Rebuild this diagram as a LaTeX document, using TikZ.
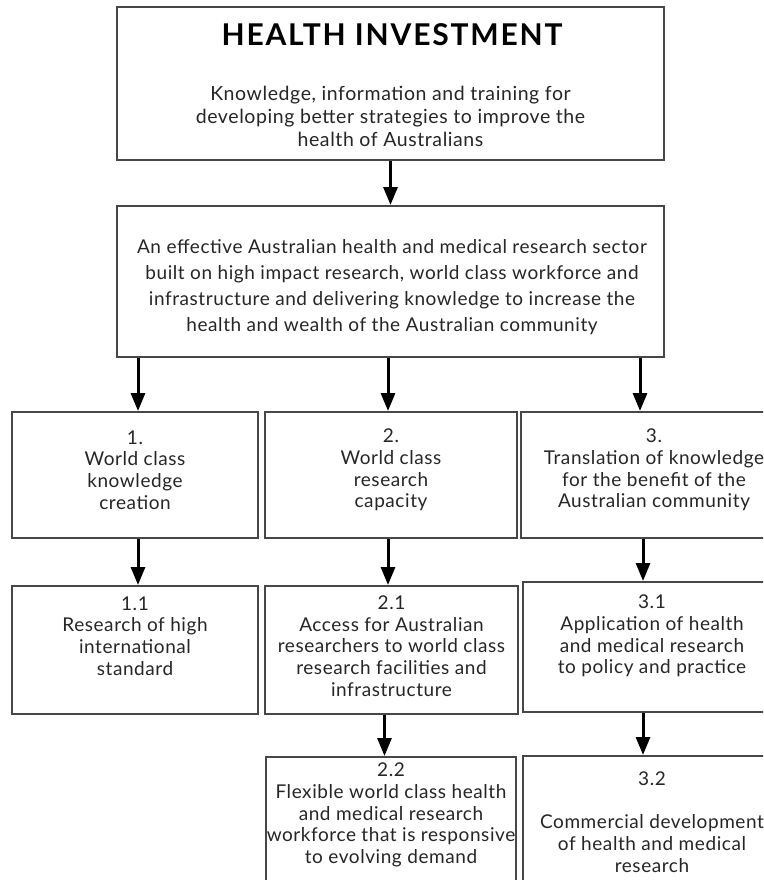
\documentclass[tikz,border=0pt]{standalone}
\usepackage{fontspec}
\setmainfont{Lato}
\usetikzlibrary{arrows.meta}
\begin{document}
\begin{tikzpicture}[x=1pt,y=-1pt,
  box/.style={draw=black!72, line width=2pt, rectangle, inner sep=0pt, fill=white},
  txt/.style={align=center, inner sep=0pt, text=black!85},
  rowtxt/.style={txt, font=\fontsize{19}{21.8}\selectfont\addfontfeatures{LetterSpace=3}},
  arr/.style={line width=3pt, draw=black, -{Triangle[width=14pt,length=18pt]}}]
\useasboundingbox (0,0) rectangle (763,880);
\clip (0,0) rectangle (763,880);
% boxes
\node[box, minimum width=547pt, minimum height=153pt] (top) at (390.5,83.5) {};
\node[box, minimum width=547pt, minimum height=151pt] (mid) at (390.5,281.5) {};
\node[box, minimum width=246pt, minimum height=126pt] (ra) at (135,475) {};
\node[box, minimum width=252pt, minimum height=126pt] (rb) at (391,475) {};
\node[box, minimum width=254pt, minimum height=126pt] (rc) at (648,475) {};
\node[box, minimum width=246pt, minimum height=128pt] (sa) at (135,650) {};
\node[box, minimum width=253pt, minimum height=128pt] (sb) at (391.5,650) {};
\node[box, minimum width=252pt, minimum height=130pt] (sc) at (649,647) {};
\node[box, minimum width=250pt, minimum height=143pt] (tb) at (391,828.5) {};
\node[box, minimum width=252pt, minimum height=144pt] (tc) at (649,828) {};
% texts
\node[txt, text=black, font=\fontsize{30}{32}\bfseries\addfontfeatures{LetterSpace=6}] (title) at (392,35) {HEALTH INVESTMENT};
\node[txt, font=\fontsize{19.5}{23}\selectfont\addfontfeatures{LetterSpace=3}] (toptext) at (390.5,116) {Knowledge, information and training for\\developing better strategies to improve the\\health of Australians};
\node[txt, font=\fontsize{19}{26}\selectfont\addfontfeatures{LetterSpace=3}] (midtext) at (392,287) {An effective Australian health and medical research sector\\built on high impact research, world class workforce and\\infrastructure and delivering knowledge to increase the\\health and wealth of the Australian community};
\node[rowtxt] (ta) at (135,470) {1.\\World class\\knowledge\\creation};
\node[rowtxt] (tbx) at (391,470) {2.\\World class\\research\\capacity};
\node[rowtxt] (tcx) at (654,470) {3.\\Translation of knowledge\\for the benefit of the\\Australian community};
\node[rowtxt] (tsa) at (135,636) {1.1\\Research of high\\international\\standard};
\node[rowtxt] (tsb) at (391.5,646) {2.1\\Access for Australian\\researchers to world class\\research facilities and\\infrastructure};
\node[rowtxt] (tsc) at (652,636) {3.1\\Application of health\\and medical research\\to policy and practice};
\node[rowtxt] (ttb) at (391,815) {2.2\\Flexible world class health\\and medical research\\workforce that is responsive\\to evolving demand};
\node[rowtxt] (ttc) at (652,822) {3.2\\[\baselineskip]Commercial development\\of health and medical\\research};
% arrows
\draw[arr] (top.south) -- (mid.north);
\draw[arr] ([xshift=3pt]mid.south -| ra.north) -- ([xshift=3pt]ra.north);
\draw[arr] ([xshift=-3pt]mid.south -| rb.north) -- ([xshift=-3pt]rb.north);
\draw[arr] ([xshift=-8pt]mid.south -| rc.north) -- ([xshift=-8pt]rc.north);
\draw[arr] ([xshift=3pt]ra.south) -- ([xshift=3pt]ra.south |- sa.north);
\draw[arr] ([xshift=-3pt]rb.south) -- ([xshift=-3pt]rb.south |- sb.north);
\draw[arr] ([xshift=-5pt]rc.south) -- ([xshift=-5pt]rc.south |- sc.north);
\draw[arr] ([xshift=-7pt]sb.south) -- ([xshift=-7pt]sb.south |- tb.north);
\draw[arr] ([xshift=-6pt]sc.south) -- ([xshift=-6pt]sc.south |- tc.north);
\end{tikzpicture}
\end{document}
